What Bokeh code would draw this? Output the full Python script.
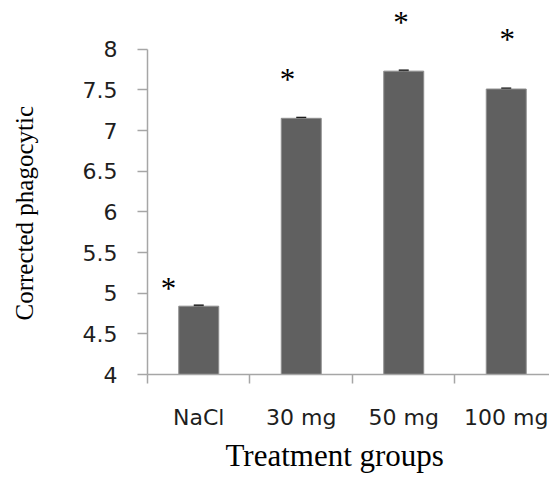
from bokeh.plotting import figure
from bokeh.models import (ColumnDataSource, Range1d, FixedTicker, Whisker, TeeHead,
                          LabelSet, LinearAxis, Title)
from bokeh.embed import file_html
from bokeh.resources import INLINE

# data
groups = ["NaCl", "30 mg", "50 mg", "100 mg"]
values = [4.84, 7.15, 7.73, 7.51]
errors = [0.01, 0.01, 0.01, 0.01]
# significance markers (position of each "*")
star_x = [0.205, 1.366, 2.473, 3.51]
star_y = [5.10, 7.66, 8.36, 8.15]
y_ticks = [4, 4.5, 5, 5.5, 6, 6.5, 7, 7.5, 8]

xs = [i + 0.5 for i in range(len(groups))]
src = ColumnDataSource(dict(x=xs, top=values,
                            upper=[v + e for v, e in zip(values, errors)],
                            lower=[v - e for v, e in zip(values, errors)]))
star_src = ColumnDataSource(dict(x=star_x, y=star_y, t=["*"] * len(star_x)))

p = figure(width=549, height=478, output_backend="svg", toolbar_location=None,
           x_range=Range1d(0, 3.922), y_range=Range1d(4, 8.5),
           min_border_left=147, min_border_right=0, min_border_top=8,
           min_border_bottom=104)
p.outline_line_color = None
p.grid.visible = False
p.background_fill_color = "white"
p.border_fill_color = "white"

p.vbar(x="x", top="top", bottom=4, width=0.39, source=src,
       fill_color="#606060", line_color="#8e8e8e", line_width=1)

wh = Whisker(base="x", upper="upper", lower="lower", source=src,
             line_color="black", line_width=1,
             upper_head=TeeHead(size=10, line_color="black", line_width=1.5),
             lower_head=TeeHead(size=10, line_color="black", line_width=1.5))
p.add_layout(wh)

stars = LabelSet(x="x", y="y", text="t", source=star_src,
                 text_font="DejaVu Sans", text_font_size="31px",
                 text_color="black", text_align="center", text_baseline="middle",
                 y_offset=-3)
p.add_layout(stars)

axis_color = "#a6a6a6"
tick_color = "#1e1e1e"

# y axis
ya = p.yaxis[0]
ya.bounds = (4, 8)
ya.ticker = FixedTicker(ticks=y_ticks)
ya.major_label_overrides = {t: (str(int(t)) if t == int(t) else str(t)) for t in y_ticks}
ya.axis_line_color = axis_color
ya.axis_line_width = 1.5
ya.major_tick_line_color = axis_color
ya.major_tick_line_width = 1.5
ya.major_tick_out = 10
ya.major_tick_in = 0
ya.minor_tick_line_color = None
ya.major_label_standoff = 20
ya.major_label_text_font = "DejaVu Sans"
ya.major_label_text_font_size = "22px"
ya.major_label_text_color = tick_color

# empty spacer between tick labels and the y title
spacer = LinearAxis(ticker=FixedTicker(ticks=[4]), axis_line_color=None,
                    major_tick_line_color=None, minor_tick_line_color=None,
                    major_label_text_color=None, major_label_standoff=0,
                    major_tick_out=42, major_tick_in=0, minor_tick_out=0, minor_tick_in=0)
p.add_layout(spacer, "left")

ytitle = Title(text="Corrected phagocytic", align="left", offset=54, standoff=0,
               vertical_align="bottom", text_font="Liberation Serif",
               text_font_size="25px", text_font_style="normal", text_color="black")
p.add_layout(ytitle, "left")

# x axis
xa = p.xaxis[0]
xa.ticker = FixedTicker(ticks=xs, minor_ticks=list(range(len(groups) + 1)))
xa.major_label_overrides = {x: g for x, g in zip(xs, groups)}
xa.axis_line_color = axis_color
xa.axis_line_width = 1.5
xa.major_tick_line_color = None
xa.major_tick_out = 0
xa.major_tick_in = 0
xa.minor_tick_line_color = axis_color
xa.minor_tick_line_width = 1.5
xa.minor_tick_out = 9
xa.minor_tick_in = 0
xa.major_label_standoff = 21
xa.major_label_text_font = "DejaVu Sans"
xa.major_label_text_font_size = "22px"
xa.major_label_text_color = tick_color

xtitle = Title(text="Treatment groups", align="left", offset=78, standoff=7,
               vertical_align="bottom", text_font="Liberation Serif",
               text_font_size="31px", text_font_style="normal", text_color="black")
p.add_layout(xtitle, "below")

open("out.html", "w").write(file_html(p, INLINE))
